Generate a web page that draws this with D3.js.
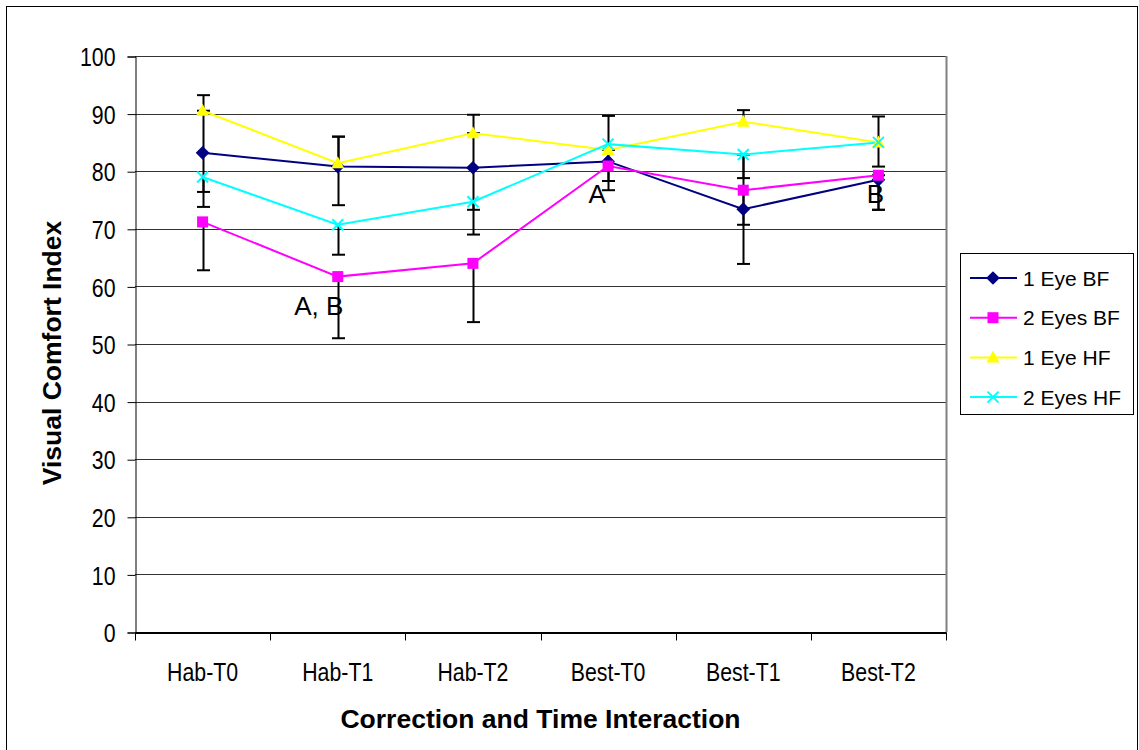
<!DOCTYPE html>
<html>
<meta charset="utf-8">
<head>
  <script src="https://d3js.org/d3.v7.min.js"></script>
  <style>
  body { margin: 0; background: #fff; }
  svg text { font-family: "Liberation Sans", Arial, Helvetica, sans-serif; fill: #000; }
  .grid line { stroke: #333; stroke-width: 1px; }
  .tick-lab { font-size: 26px; }
  .title { font-size: 26.5px; font-weight: bold; }
  .note { font-size: 26px; }
  .legend text { font-size: 21px; }
  </style>
</head>
<body>
<div id="chart"></div>
<script>

// categories and series
var categories = ["Hab-T0", "Hab-T1", "Hab-T2", "Best-T0", "Best-T1", "Best-T2"]
var yTicks = [0, 10, 20, 30, 40, 50, 60, 70, 80, 90, 100]

var seriesNames = ["1 Eye BF", "2 Eyes BF", "1 Eye HF", "2 Eyes HF"]
var oneEyeBF  = [83.2, 80.8, 80.6, 81.7, 73.4, 78.5]
var twoEyesBF = [71.2, 61.7, 64.0, 80.9, 76.7, 79.3]
var oneEyeHF  = [90.5, 81.4, 86.6, 83.7, 88.6, 85.0]
var twoEyesHF = [79.0, 70.7, 74.7, 84.7, 82.9, 85.0]

// error bars, plus and minus side
var oneEyeBFPlus   = [7.3, 5.2, 6.0, 2.0, 9.5, 0.8]
var oneEyeBFMinus  = [9.4, 6.7, 7.3, 5.0, 9.5, 5.2]
var twoEyesBFPlus  = [0, 0, 0, 0, 0, 0]
var twoEyesBFMinus = [8.4, 10.7, 10.2, 2.6, 6.0, 6.0]
var oneEyeHFPlus   = [2.7, 4.6, 3.2, 5.9, 2.0, 4.5]
var oneEyeHFMinus  = [0, 0, 0, 0, 0, 0]
var twoEyesHFPlus  = [0, 0, 0, 0, 0, 0]
var twoEyesHFMinus = [2.6, 5.2, 5.7, 0, 4.1, 4.2]

// significance letters
var noteCats   = ["Hab-T1", "Best-T0", "Best-T2"]
var noteValues = [55.0, 74.5, 74.5]
var noteTexts  = ["A, B", "A", "B"]

var colors  = ["#000080", "#ff00ff", "#ffff00", "#00ffff"]
var symbols = ["diamond", "square", "triangle", "cross"]

var series = seriesNames.map(function(name, i){
  return {
    name: name,
    values: [oneEyeBF, twoEyesBF, oneEyeHF, twoEyesHF][i],
    plus:   [oneEyeBFPlus, twoEyesBFPlus, oneEyeHFPlus, twoEyesHFPlus][i],
    minus:  [oneEyeBFMinus, twoEyesBFMinus, oneEyeHFMinus, twoEyesHFMinus][i],
    color: colors[i],
    symbol: symbols[i]
  }
})

var W = 1139, H = 750
var plot = {left: 135, top: 56, right: 946, bottom: 632}
var squeeze = 0.82   // tick labels are a narrow face in the original

var svg = d3.select("#chart").append("svg")
    .attr("width", W)
    .attr("height", H)

// outer frame
svg.append("rect")
    .attr("x", 6.5).attr("y", 6.5)
    .attr("width", W - 8).attr("height", H - 6)
    .attr("fill", "#fff").attr("stroke", "#000").attr("stroke-width", 1)

var x = d3.scaleBand().domain(categories).range([plot.left, plot.right])
var y = d3.scaleLinear().domain([0, 100]).range([plot.bottom, plot.top])
var cx = function(c){ return x(c) + x.bandwidth() / 2 }

// gridlines
svg.append("g").attr("class", "grid")
  .selectAll("line").data(yTicks.filter(function(t){ return t > 0 }))
  .enter().append("line")
    .attr("x1", plot.left).attr("x2", plot.right)
    .attr("y1", function(d){ return Math.round(y(d)) + 0.5 })
    .attr("y2", function(d){ return Math.round(y(d)) + 0.5 })

// plot area right border
svg.append("line")
    .attr("x1", plot.right + 0.5).attr("x2", plot.right + 0.5)
    .attr("y1", plot.top).attr("y2", plot.bottom)
    .attr("stroke", "#808080").attr("stroke-width", 2)

// y axis
var yAxis = d3.axisLeft(y).tickValues(yTicks).tickSize(8).tickPadding(12)
var gy = svg.append("g")
    .attr("transform", "translate(" + (plot.left + 0.5) + ",0.5)")
    .call(yAxis)
gy.select(".domain").attr("stroke", "#000").attr("stroke-width", 1)
gy.selectAll(".tick line").attr("stroke", "#000")
gy.selectAll(".tick text").attr("class", "tick-lab").attr("font-size", null)
    .attr("font-family", null).attr("fill", "#000").attr("dy", "0.35em")
    .attr("x", -20 / squeeze)
    .attr("transform", "scale(" + squeeze + ",1)")

// x axis: ticks between categories
var xAxis = d3.axisBottom(x).tickSize(0).tickPadding(30)
var gx = svg.append("g")
    .attr("transform", "translate(0," + (plot.bottom + 0.5) + ")")
    .call(xAxis)
gx.select(".domain").attr("stroke", "#000").attr("stroke-width", 2)
gx.selectAll(".tick text").attr("class", "tick-lab").attr("font-size", null)
    .attr("font-family", null).attr("fill", "#000")
    .attr("transform", "scale(" + squeeze + ",1)")
gx.selectAll(".sep").data(categories.concat([null]))
  .enter().append("line")
    .attr("x1", function(d, i){ return Math.round(plot.left + i * x.step()) + 0.5 })
    .attr("x2", function(d, i){ return Math.round(plot.left + i * x.step()) + 0.5 })
    .attr("y1", 0).attr("y2", 8)
    .attr("stroke", "#000")

// axis titles
svg.append("text").attr("class", "title")
    .attr("x", (plot.left + plot.right) / 2).attr("y", 728)
    .attr("text-anchor", "middle")
    .text("Correction and Time Interaction")

svg.append("text").attr("class", "title")
    .attr("transform", "translate(61,353) rotate(-90)")
    .attr("text-anchor", "middle")
    .text("Visual Comfort Index")

// error bars
var capW = 6.5
series.forEach(function(s){
  var g = svg.append("g")
  categories.forEach(function(c, i){
    var v = s.values[i], xx = Math.round(cx(c)) + 0.5
    var ends = []
    if (s.plus[i] > 0) ends.push(v + s.plus[i])
    if (s.minus[i] > 0) ends.push(v - s.minus[i])
    ends.forEach(function(e){
      g.append("line")
        .attr("x1", xx).attr("x2", xx)
        .attr("y1", y(v)).attr("y2", y(e))
        .attr("stroke", "#000").attr("stroke-width", 2)
      g.append("line")
        .attr("x1", xx - capW).attr("x2", xx + capW)
        .attr("y1", y(e)).attr("y2", y(e))
        .attr("stroke", "#000").attr("stroke-width", 2)
    })
  })
})

// series lines
var line = d3.line()
  .x(function(d, i){ return cx(categories[i]) })
  .y(function(d){ return y(d) })

series.forEach(function(s){
  svg.append("path")
    .datum(s.values)
    .attr("fill", "none")
    .attr("stroke", s.color)
    .attr("stroke-width", 2)
    .attr("d", line)
})

// markers
function drawMarker(g, type, color, px, py, sz){
  if (type == "diamond") {
    g.append("path").attr("d", d3.symbol(d3.symbolDiamond2, sz * 10)())
      .attr("transform", "translate(" + px + "," + py + ")").attr("fill", color)
  } else if (type == "square") {
    g.append("rect").attr("x", px - 5.5).attr("y", py - 5.5)
      .attr("width", 11).attr("height", 11).attr("fill", color)
  } else if (type == "triangle") {
    g.append("path").attr("d", "M" + px + "," + (py - 7) + "L" + (px + 6.5) + "," + (py + 5) + "L" + (px - 6.5) + "," + (py + 5) + "Z")
      .attr("fill", color)
  } else {
    var r = 5.5
    g.append("path").attr("d", "M" + (px - r) + "," + (py - r) + "L" + (px + r) + "," + (py + r) + "M" + (px + r) + "," + (py - r) + "L" + (px - r) + "," + (py + r))
      .attr("stroke", color).attr("stroke-width", 2).attr("fill", "none")
  }
}

series.forEach(function(s){
  var g = svg.append("g")
  s.values.forEach(function(v, i){
    drawMarker(g, s.symbol, s.color, cx(categories[i]), y(v), 12)
  })
})

// significance letters
noteTexts.forEach(function(t, i){
  var dx = t.length > 1 ? -19 : -11
  if (noteCats[i] == "Best-T2") dx = -3
  svg.append("text").attr("class", "note")
    .attr("x", cx(noteCats[i]) + dx).attr("y", y(noteValues[i]))
    .attr("text-anchor", "middle")
    .text(t)
})

// legend
var lg = svg.append("g").attr("class", "legend")
lg.append("rect")
    .attr("x", 960.5).attr("y", 253.5).attr("width", 173).attr("height", 161)
    .attr("fill", "#fff").attr("stroke", "#000")
series.forEach(function(s, i){
  var ly = 278 + i * 39.7
  lg.append("line").attr("x1", 970).attr("x2", 1017)
    .attr("y1", ly).attr("y2", ly)
    .attr("stroke", s.color).attr("stroke-width", 2)
  drawMarker(lg, s.symbol, s.color, 993, ly, 12)
  lg.append("text").attr("x", 1023).attr("y", ly).attr("dy", "0.36em").text(s.name)
})

</script>
</body>
</html>
